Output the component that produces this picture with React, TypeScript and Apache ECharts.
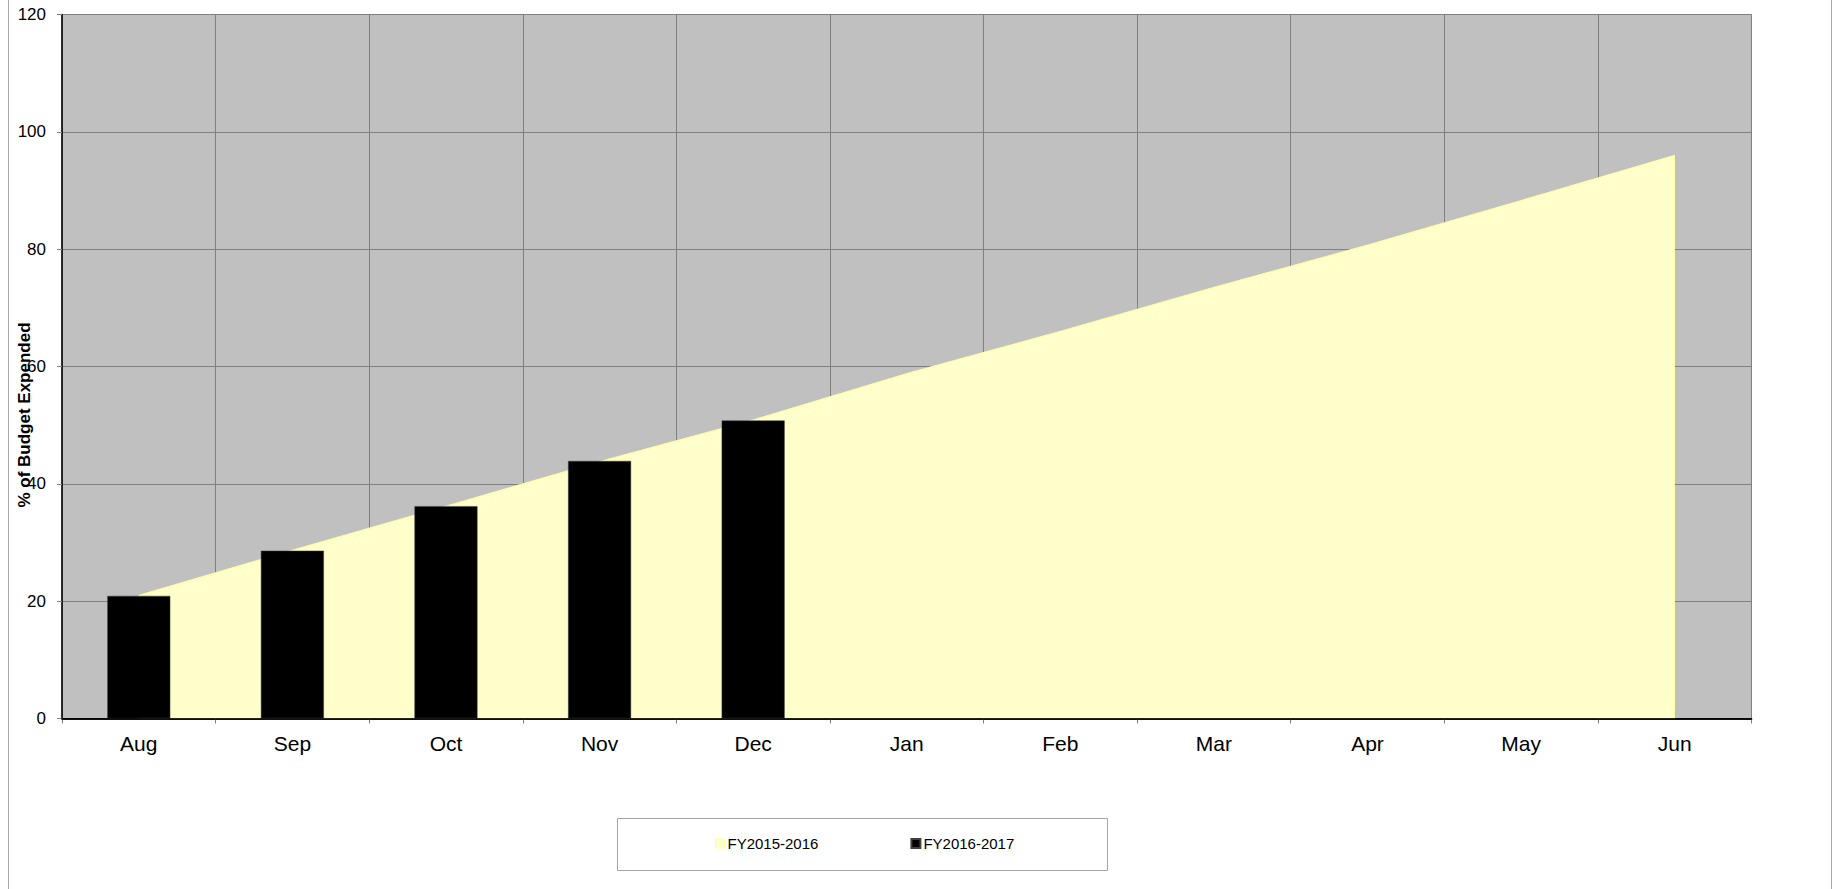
import React, { useEffect, useRef } from "react";
import * as echarts from "echarts";

// Fiscal-year months shown on the category axis
const months = ["Aug", "Sep", "Oct", "Nov", "Dec", "Jan", "Feb", "Mar", "Apr", "May", "Jun"];

// Prior year cumulative % of budget expended (area)
const fy2015Values = [21.0, 28.7, 36.2, 43.8, 50.9, 58.8, 66.0, 73.5, 80.7, 88.3, 96.0];

// Current year cumulative % of budget expended (bars, year to date)
const fy2016Values = [20.9, 28.6, 36.2, 43.9, 50.8];

const seriesNames = ["FY2015-2016", "FY2016-2017"];
const yAxisTitle = "% of Budget Expended";

const FONT = "Arial, 'Liberation Sans', Helvetica, sans-serif";

export default function App() {
  const ref = useRef<HTMLDivElement>(null);

  useEffect(() => {
    if (!ref.current) return;
    const chart = echarts.init(ref.current, null, { renderer: "svg" });

    chart.setOption({
      animation: false,
      backgroundColor: "#ffffff",
      textStyle: { fontFamily: FONT },
      grid: {
        show: true,
        left: 62,
        top: 14.5,
        width: 1689.5,
        height: 704,
        backgroundColor: "#c0c0c0",
        borderColor: "#808080",
        borderWidth: 1,
      },
      legend: {
        left: 715,
        top: 836,
        padding: 0,
        orient: "horizontal",
        itemWidth: 9,
        itemHeight: 9,
        itemGap: 92,
        icon: "rect",
        textStyle: { fontFamily: FONT, fontSize: 15, color: "#000", padding: [0, 0, 0, -2] },
        data: [
          { name: seriesNames[0], itemStyle: { color: "#ffffcc", borderColor: "#ffff99", borderWidth: 1 } },
          { name: seriesNames[1], itemStyle: { color: "#000000" } },
        ],
      },
      xAxis: [
        {
          type: "category",
          data: months,
          boundaryGap: true,
          axisLine: { show: true, lineStyle: { color: "#000", width: 1.5 } },
          axisTick: { show: true, length: 5, lineStyle: { color: "#808080" } },
          axisLabel: { fontFamily: FONT, fontSize: 21, color: "#000", margin: 14 },
          splitLine: { show: true, lineStyle: { color: "#808080", width: 1 } },
        },
        {
          // draws the baseline above the filled area
          type: "category",
          data: months,
          position: "bottom",
          z: 10,
          axisLine: { show: true, lineStyle: { color: "#000", width: 1.5 } },
          axisTick: { show: false },
          axisLabel: { show: false },
          splitLine: { show: false },
        },
      ],
      yAxis: {
        type: "value",
        min: 0,
        max: 120,
        interval: 20,
        axisLine: { show: true, lineStyle: { color: "#000", width: 1.5 } },
        axisTick: { show: true, length: 5, lineStyle: { color: "#808080" } },
        axisLabel: { fontFamily: FONT, fontSize: 17, color: "#000", margin: 16 },
        splitLine: { show: true, lineStyle: { color: "#808080", width: 1 } },
      },
      graphic: [
        {
          type: "rect",
          silent: true,
          z: -10,
          shape: { x: 8.5, y: -5, width: 1823, height: 905 },
          style: { fill: "none", stroke: "#a6a6a6", lineWidth: 1 },
        },
        {
          type: "rect",
          silent: true,
          z: -5,
          shape: { x: 617.5, y: 818.5, width: 490, height: 52 },
          style: { fill: "#ffffff", stroke: "#a6a6a6", lineWidth: 1 },
        },
        {
          type: "text",
          x: 24.5,
          y: 415,
          rotation: Math.PI / 2,
          style: {
            text: yAxisTitle,
            font: `bold 17px ${FONT}`,
            fill: "#000",
            align: "center",
            verticalAlign: "middle",
          },
        },
      ],
      series: [
        {
          name: seriesNames[0],
          type: "line",
          data: fy2015Values,
          showSymbol: false,
          symbol: "none",
          z: 1,
          itemStyle: { color: "#ffffcc" },
          lineStyle: { color: "#ffff99", width: 1 },
          areaStyle: { color: "#ffffcc", opacity: 1 },
          markLine: {
            silent: true,
            symbol: "none",
            label: { show: false },
            lineStyle: { color: "#ffff99", width: 1, type: "solid" },
            data: [
              [
                { coord: [months[months.length - 1], 0] },
                { coord: [months[months.length - 1], fy2015Values[fy2015Values.length - 1]] },
              ],
            ],
          },
        },
        {
          name: seriesNames[1],
          type: "bar",
          data: fy2016Values,
          barWidth: 63,
          z: 3,
          itemStyle: { color: "#000000", borderColor: "#404040", borderWidth: 0.5 },
        },
      ],
    });

    return () => chart.dispose();
  }, []);

  return (
    <div
      ref={ref}
      style={{ position: "fixed", left: 0, top: 0, width: 1843, height: 889, background: "#fff" }}
    />
  );
}
